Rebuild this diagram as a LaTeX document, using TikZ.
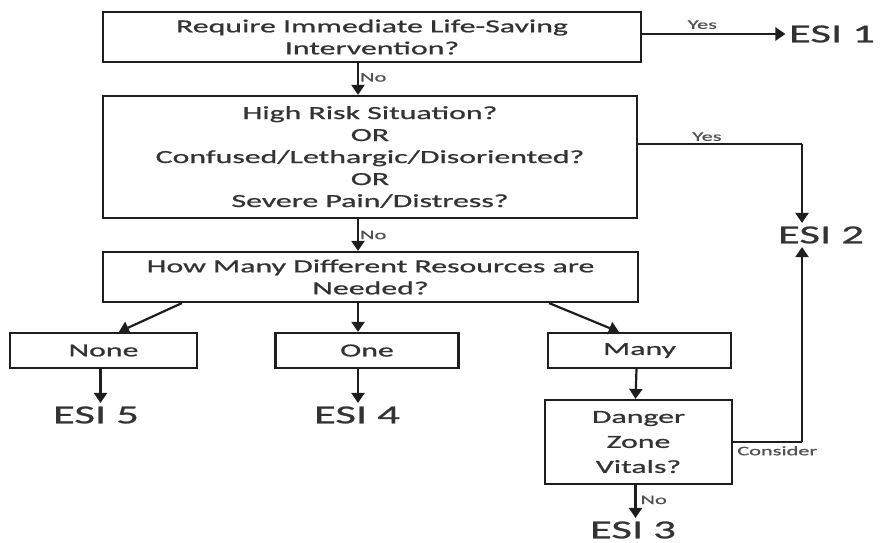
\documentclass[tikz,border=0pt]{standalone}
\usepackage{fontspec}
\setmainfont{Carlito}[FakeStretch=1.72, FakeBold=0.9]
\usepackage{tikz}
\usetikzlibrary{arrows.meta}

\definecolor{ink}{HTML}{1E1E1E}
\definecolor{txt}{HTML}{333333}

\tikzset{
    box/.style={draw=ink, line width=2.2pt, text=txt, align=center, inner sep=0pt,
        font=\fontsize{18.5}{22}\selectfont},
    esi/.style={text=txt, font=\fontsize{26}{30}\selectfont},
    lbl/.style={text=txt!85, font=\fontsize{13}{15}\selectfont, inner sep=1pt},
    arr/.style={draw=ink, line width=2.2pt, -{Triangle[width=13pt,length=10pt]}},
    ln/.style={draw=ink, line width=2.2pt}
}

\begin{document}
\begin{tikzpicture}[x=1pt, y=-1pt]
    \useasboundingbox (0,0) rectangle (880,542);

    % Questions
    \node[box, minimum width=538, minimum height=50] (q1) at (372,37)
        {Require Immediate Life-Saving\\Intervention?};
    \node[box, minimum width=534, minimum height=122] (q2) at (370,157)
        {High Risk Situation?\\OR\\Confused/Lethargic/Disoriented?\\OR\\Severe Pain/Distress?};
    \node[box, minimum width=535, minimum height=50] (q3) at (370.5,277)
        {How Many Different Resources are\\Needed?};

    % Resource boxes
    \node[box, minimum width=187, minimum height=35] (none) at (103.5,350.5) {None};
    \node[box, minimum width=183, minimum height=35] (one) at (367,350.5) {One};
    \node[box, minimum width=183, minimum height=35] (many) at (639.5,350.5) {Many};
    \node[box, minimum width=187, minimum height=84, font=\fontsize{18.5}{25}\selectfont]
        (danger) at (638.5,442) {Danger\\Zone\\Vitals?};

    % Levels
    \node[esi] (esi1) at (832,34) {ESI 1};
    \node[esi] (esi2) at (821,235) {ESI 2};
    \node[esi] (esi3) at (633,530) {ESI 3};
    \node[esi] (esi4) at (357,415) {ESI 4};
    \node[esi] (esi5) at (96,415) {ESI 5};

    % Helper points
    \coordinate (sp) at (358,0);
    \coordinate (c2) at (802,144);
    \coordinate (c3) at (c2 |- danger.east);
    \coordinate (d5) at ([xshift=-3]none.south);
    \coordinate (d3) at ([xshift=-3]danger.south);

    % Main path
    \draw[arr] (q1.east |- esi1) -- node[lbl, above=3pt, pos=0.42] {Yes} (esi1.west);
    \draw[arr] (q1.south -| sp) -- node[lbl, right, pos=0.45] {No} (q2.north -| sp);
    \draw[arr] (q2.south -| sp) -- node[lbl, right, pos=0.5] {No} (q3.north -| sp);
    \draw[ln] (q2.east |- c2) -- node[lbl, above=1pt, pos=0.42] {Yes} (c2);
    \draw[arr] (c2) -- (c2 |- esi2.north);

    % Resources
    \draw[arr] ([xshift=80]q3.south west) -- ([xshift=110]none.north west);
    \draw[arr] (q3.south -| sp) -- (one.north -| sp);
    \draw[arr] ([xshift=-90]q3.south east) -- ([xshift=72]many.north west);
    \draw[arr] (d5) -- (d5 |- esi5.north);
    \draw[arr] (one.south -| sp) -- (esi4.north -| sp);
    \draw[arr] ([xshift=-3]many.south) -- ([xshift=-3]danger.north);
    \draw[arr] (d3) -- node[lbl, right=3pt, pos=0.45] {No} (d3 |- esi3.north);

    % Consider
    \draw[ln] (danger.east) -- (c3);
    \draw[arr] (c3) -- (c3 |- esi2.south);
    \node[lbl, below right=3pt] (cons) at (danger.east) {Consider};
\end{tikzpicture}
\end{document}
